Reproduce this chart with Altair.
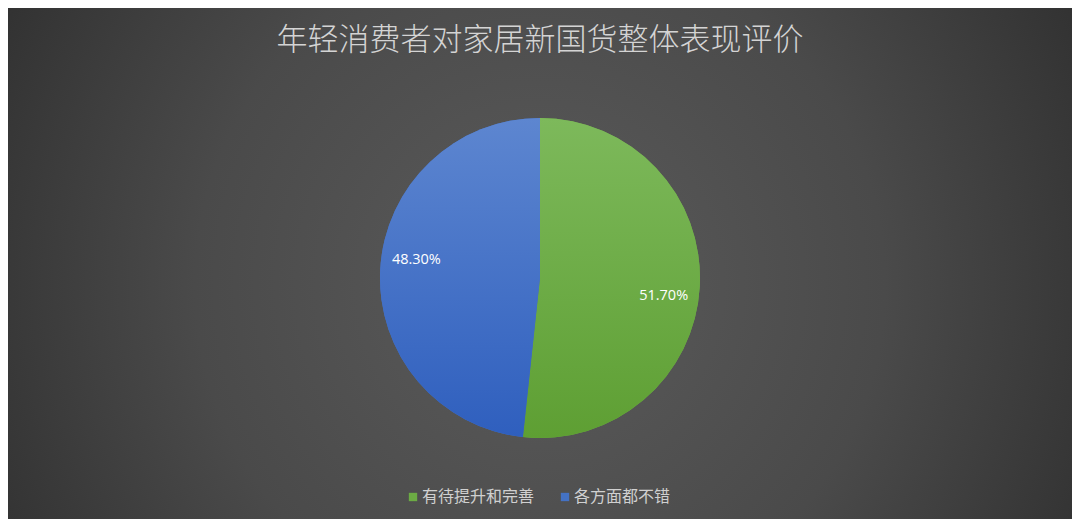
import altair as alt
import pandas as pd

categories = ["有待提升和完善", "各方面都不错"]
values = [51.7, 48.3]
order_idx = [0, 1]
colors = ["#6cab44", "#4472c4"]
title_text = "年轻消费者对家居新国货整体表现评价"

df = pd.DataFrame({"cat": categories, "value": values, "idx": order_idx})

W, H = 1064, 511
CX, CY, R = 532, 270, 160

bg = alt.Chart(df).mark_rect(
    fill={
        "gradient": "radial",
        "x1": 0.5, "y1": 0.52, "r1": 0,
        "x2": 0.5, "y2": 0.52, "r2": 0.72,
        "stops": [
            {"offset": 0, "color": "#5b5b5b"},
            {"offset": 0.45, "color": "#4a4a4a"},
            {"offset": 1, "color": "#232323"},
        ],
    }
).encode(
    x=alt.value(0), x2=alt.value(W), y=alt.value(0), y2=alt.value(H)
)

base = alt.Chart(df).transform_stack(
    stack="value", as_=["start", "end"], groupby=[], sort=[alt.SortField("idx")]
).transform_calculate(mid="(datum.start + datum.end) / 2 + 1.5")

theta_scale = alt.Scale(domain=[0, 100], range=[0, 6.283185307179586])

pie = base.mark_arc(outerRadius=R).encode(
    theta=alt.Theta("start:Q", scale=theta_scale),
    theta2="end:Q",
    x=alt.value(CX), y=alt.value(CY),
    color=alt.Color(
        "cat:N",
        scale=alt.Scale(domain=categories, range=colors),
        sort=categories,
        legend=alt.Legend(
            title=None, orient="none", legendX=397, legendY=481,
            direction="horizontal", symbolType="square", symbolSize=70,
            symbolStrokeWidth=0, labelColor="#d0d0d0", labelFontSize=16,
            labelFont="Noto Sans CJK SC", columnPadding=22, labelOffset=1,
            labelLimit=300,
        ),
    ),
)

def grad(top, bottom):
    return {
        "gradient": "linear", "x1": 0, "y1": 0, "x2": 0, "y2": 1,
        "stops": [{"offset": 0, "color": top}, {"offset": 1, "color": bottom}],
    }

green = base.transform_filter("datum.idx == 0").mark_arc(
    outerRadius=R, fill=grad("#7db95b", "#5e9f33")
).encode(
    theta=alt.Theta("start:Q", scale=theta_scale), theta2="end:Q",
    x=alt.value(CX), y=alt.value(CY),
)

blue = base.transform_filter("datum.idx == 1").mark_arc(
    outerRadius=R, fill=grad("#5d86d0", "#2f5fbe")
).encode(
    theta=alt.Theta("start:Q", scale=theta_scale), theta2="end:Q",
    x=alt.value(CX), y=alt.value(CY),
)

labels = base.mark_text(
    radius=125, color="#ffffff", fontSize=14.5, font="Open Sans"
).transform_calculate(
    lab="format(datum.value / 100, '.2%')"
).encode(
    theta=alt.Theta("mid:Q", scale=theta_scale),
    x=alt.value(CX), y=alt.value(CY),
    text="lab:N",
)

chart = alt.layer(bg, pie, green, blue, labels).properties(
    width=W, height=H,
    autosize=alt.AutoSizeParams(type="none"),
    padding=0,
    background="#262626",
    title=alt.TitleParams(
        title_text, anchor="middle", orient="top", offset=-80,
        fontSize=31, font="Noto Sans CJK SC", fontWeight=300,
        color="#d4d4d4", baseline="bottom",
    ),
).configure_view(stroke=None)

chart.save("out.html", embed_options={"renderer": "svg", "actions": False})
